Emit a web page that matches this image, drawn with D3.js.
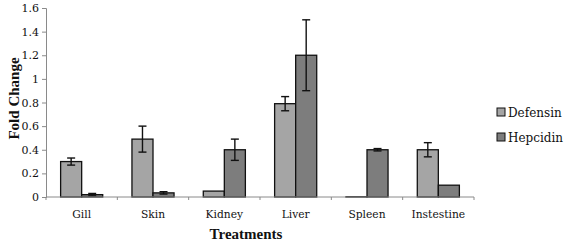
<!DOCTYPE html>
<html>
<head>
<meta charset="utf-8">
<script src="https://cdn.jsdelivr.net/npm/d3@7"></script>
<style>
  body { margin: 0; background: #fff; }
</style>
</head>
<body>
<svg id="chart" width="568" height="244"></svg>
<script>
const categories = ['Gill', 'Skin', 'Kidney', 'Liver', 'Spleen', 'Instestine'];
const seriesNames = ['Defensin', 'Hepcidin'];
const defensin = [0.30, 0.49, 0.05, 0.79, 0.002, 0.40];
const defensinErr = [0.03, 0.11, 0, 0.06, 0, 0.06];
const hepcidin = [0.02, 0.035, 0.40, 1.20, 0.40, 0.10];
const hepcidinErr = [0.01, 0.01, 0.09, 0.30, 0.01, 0];
const yTicks = [0, 0.2, 0.4, 0.6, 0.8, 1, 1.2, 1.4, 1.6];

const FONT = '"DejaVu Serif", serif';
const BOLD_FONT = '"Liberation Serif", serif';

const margin = { top: 8, right: 94, bottom: 47, left: 46 };
const width = 568 - margin.left - margin.right;
const height = 244 - margin.top - margin.bottom;

const svg = d3.select('#chart');
const g = svg.append('g').attr('transform', `translate(${margin.left},${margin.top})`);

const color = d3.scaleOrdinal().domain(seriesNames).range(['#a5a5a5', '#7d7d7d']);

const x0 = d3.scaleBand().domain(categories).range([0, width]).padding(0);
const x1 = d3.scaleBand().domain(seriesNames)
  .range([x0.bandwidth() * 0.205, x0.bandwidth() * 0.795]).padding(0);
const y = d3.scaleLinear().domain([0, 1.6]).range([height, 0]);

const data = categories.map((c, i) => ({
  cat: c,
  vals: [
    { key: 'Defensin', value: defensin[i], err: defensinErr[i] },
    { key: 'Hepcidin', value: hepcidin[i], err: hepcidinErr[i] },
  ],
}));

// y axis
const yAxis = g.append('g')
  .call(d3.axisLeft(y).tickValues(yTicks).tickSize(4).tickFormat(d3.format('')));
yAxis.select('.domain').attr('stroke', '#8a8a8a');
yAxis.selectAll('.tick line').attr('stroke', '#8a8a8a');
yAxis.selectAll('.tick text').attr('x', -7).attr('fill', '#111')
  .style('font-family', FONT).style('font-size', '11px');

const groups = g.selectAll('g.grp').data(data).enter().append('g')
  .attr('class', 'grp')
  .attr('transform', d => `translate(${x0(d.cat)},0)`);

groups.selectAll('rect').data(d => d.vals).enter().append('rect')
  .attr('x', d => x1(d.key))
  .attr('y', d => y(d.value))
  .attr('width', x1.bandwidth())
  .attr('height', d => height - y(d.value))
  .attr('fill', d => color(d.key))
  .attr('stroke', '#111')
  .attr('stroke-width', 1.3);

// error bars
const eb = groups.selectAll('g.err').data(d => d.vals.filter(v => v.err > 0)).enter()
  .append('g').attr('class', 'err')
  .attr('stroke', '#111').attr('stroke-width', 1.4);
eb.append('line')
  .attr('x1', d => x1(d.key) + x1.bandwidth() / 2)
  .attr('x2', d => x1(d.key) + x1.bandwidth() / 2)
  .attr('y1', d => y(d.value + d.err))
  .attr('y2', d => y(d.value - d.err));
['+', '-'].forEach(s => {
  eb.append('line')
    .attr('x1', d => x1(d.key) + x1.bandwidth() / 2 - 4)
    .attr('x2', d => x1(d.key) + x1.bandwidth() / 2 + 4)
    .attr('y1', d => y(s === '+' ? d.value + d.err : d.value - d.err))
    .attr('y2', d => y(s === '+' ? d.value + d.err : d.value - d.err));
});

// x axis
const xAxisG = g.append('g').attr('transform', `translate(0,${height})`);
xAxisG.append('line').attr('x1', 0).attr('x2', width).attr('stroke', '#8a8a8a');
xAxisG.selectAll('line.tk').data(d3.range(categories.length + 1)).enter().append('line')
  .attr('class', 'tk')
  .attr('x1', i => i * x0.step()).attr('x2', i => i * x0.step())
  .attr('y1', 0).attr('y2', 3).attr('stroke', '#8a8a8a');
xAxisG.selectAll('text').data(categories).enter().append('text')
  .attr('x', d => x0(d) + x0.bandwidth() / 2)
  .attr('y', 21)
  .attr('text-anchor', 'middle')
  .attr('fill', '#111')
  .style('font-family', FONT)
  .style('font-size', '10.7px')
  .text(d => d);

// axis titles
svg.append('text')
  .attr('x', margin.left + width / 2 - 14)
  .attr('y', 239)
  .attr('text-anchor', 'middle')
  .attr('fill', '#111')
  .style('font-family', BOLD_FONT)
  .style('font-size', '15px')
  .style('font-weight', 'bold')
  .text('Treatments');

svg.append('text')
  .attr('transform', `translate(19,${margin.top + height / 2 - 4}) rotate(-90)`)
  .attr('text-anchor', 'middle')
  .attr('fill', '#111')
  .style('font-family', BOLD_FONT)
  .style('font-size', '15px')
  .style('font-weight', 'bold')
  .text('Fold Change');

// legend
const legend = svg.append('g').attr('transform', 'translate(497,108)');
const li = legend.selectAll('g').data(seriesNames).enter().append('g')
  .attr('transform', (d, i) => `translate(0,${i * 25})`);
li.append('rect')
  .attr('width', 8).attr('height', 8)
  .attr('fill', d => color(d))
  .attr('stroke', '#111').attr('stroke-width', 1);
li.append('text')
  .attr('x', 11).attr('y', 9)
  .attr('fill', '#111')
  .style('font-family', FONT)
  .style('font-size', '12px')
  .text(d => d);
</script>
</body>
</html>
